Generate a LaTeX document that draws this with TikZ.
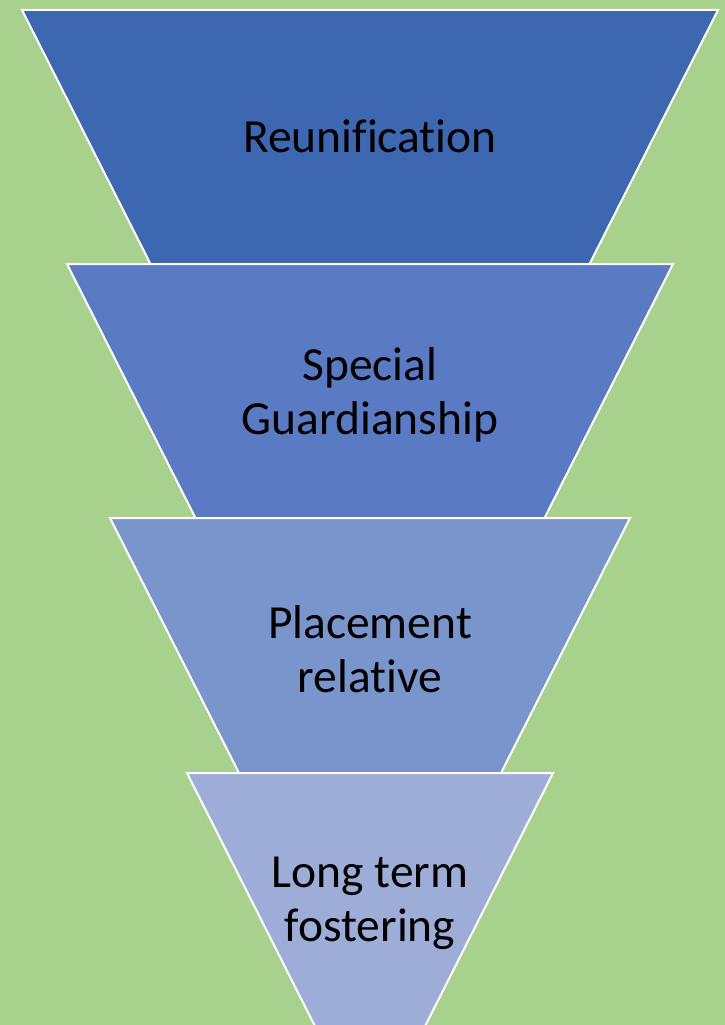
\documentclass[tikz,border=0pt]{standalone}
\usepackage{fontspec}
\setmainfont[Ligatures=NoCommon]{Carlito}
\definecolor{bg}{HTML}{A9D18E}
\definecolor{tone1}{HTML}{3D67B1}
\definecolor{tone2}{HTML}{5A7AC3}
\definecolor{tone3}{HTML}{7A94CC}
\definecolor{tone4}{HTML}{9DADD7}
\tikzset{
  band/.style={draw=white, line width=2pt, line join=miter},
  label/.style={text=black, align=center, inner sep=0pt,
    font=\fontsize{47.5}{54}\selectfont}
}
\begin{document}
\begin{tikzpicture}[x=1pt,y=-1pt]
\useasboundingbox (0,0) rectangle (725,1025);
\fill[bg] (0,0) rectangle (725,1025);
\begin{scope}
\clip (0,0) rectangle (725,1025);
\draw[band, fill=tone1] (22,10) -- (718,10) -- (589.5,264) -- (150.5,264) -- cycle;
\draw[band, fill=tone2] (67,264) -- (673,264) -- (544.5,518) -- (195.5,518) -- cycle;
\draw[band, fill=tone3] (110,518) -- (630,518) -- (501,773) -- (239,773) -- cycle;
\draw[band, fill=tone4] (187,773) -- (553,773) -- (370,1135) -- cycle;
\end{scope}
\node[label] (n1) at (370,136) {Reunification};
\node[label] (n2) at (370,395) {Special\\Guardianship};
\node[label] (n3) at (370,649) {Placement\\relative};
\node[label] (n4) at (370,903) {Long term\\fostering};
\end{tikzpicture}
\end{document}
